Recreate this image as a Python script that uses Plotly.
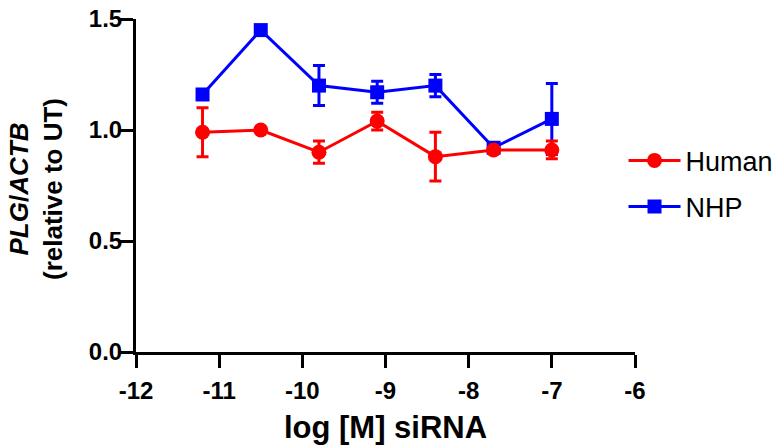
import plotly.graph_objects as go

log_conc = [-11.2, -10.5, -9.8, -9.1, -8.4, -7.7, -7.0]
human = [0.99, 1.00, 0.90, 1.04, 0.88, 0.91, 0.91]
human_err = [0.11, 0.0, 0.05, 0.04, 0.11, 0.0, 0.04]
nhp = [1.16, 1.45, 1.20, 1.17, 1.20, 0.92, 1.05]
nhp_err = [0.0, 0.0, 0.09, 0.05, 0.05, 0.0, 0.16]
x_ticks = [-12, -11, -10, -9, -8, -7, -6]
y_ticks = [0.0, 0.5, 1.0, 1.5]

FONT = "Liberation Sans, Arial, sans-serif"

fig = go.Figure()
fig.add_trace(go.Scatter(
    x=log_conc, y=nhp, name="NHP", mode="lines+markers", legendgroup="nhp", legendrank=2,
    line=dict(color="#0000FF", width=3),
    marker=dict(symbol="square", size=14, color="#0000FF"),
    error_y=dict(type="data", array=nhp_err, visible=True, color="#0000FF", thickness=3, width=6),
))
fig.add_trace(go.Scatter(
    x=log_conc, y=human, name="Human", mode="lines+markers", legendgroup="human", legendrank=1,
    line=dict(color="#FF0000", width=3),
    marker=dict(symbol="circle", size=15, color="#FF0000"),
    error_y=dict(type="data", array=human_err, visible=True, color="#FF0000", thickness=3, width=6),
))

fig.add_annotation(
    text="<b><i>PLG</i>/<i>ACTB</i></b><br><b>(relative to UT)</b>",
    xref="paper", yref="paper", x=-0.20, y=0.49,
    xanchor="center", yanchor="middle", textangle=-90, showarrow=False,
    font=dict(size=26, family=FONT, color="black"),
)

fig.update_layout(
    width=779, height=446,
    margin=dict(l=136, r=144, t=19, b=94, autoexpand=False),
    plot_bgcolor="white", paper_bgcolor="white",
    font=dict(family=FONT, color="black"),
    showlegend=True,
    legend=dict(x=0.977, y=0.505, xanchor="left", yanchor="middle",
                traceorder="grouped", font=dict(size=27, family=FONT),
                itemwidth=52, tracegroupgap=8, bgcolor="rgba(0,0,0,0)"),
    xaxis=dict(range=[-12, -6], tickvals=x_ticks, ticktext=[str(v) for v in x_ticks],
               automargin=False,
               showgrid=False, zeroline=False, showline=True, linecolor="black", linewidth=3,
               ticks="outside", ticklen=13, tickwidth=3, tickcolor="black",
               ticklabelstandoff=2,
               tickfont=dict(size=24, family=FONT, weight="bold"),
               title=dict(text="<b>log [M] siRNA</b>", font=dict(size=31, family=FONT), standoff=14)),
    yaxis=dict(range=[0, 1.5], tickvals=y_ticks, ticktext=["0.0", "0.5", "1.0", "1.5"],
               automargin=False,
               showgrid=False, zeroline=False, showline=True, linecolor="black", linewidth=3,
               ticks="outside", ticklen=13, tickwidth=3, tickcolor="black",
               ticklabelstandoff=-7,
               tickfont=dict(size=24, family=FONT, weight="bold")),
)

fig.write_html("out.html")
